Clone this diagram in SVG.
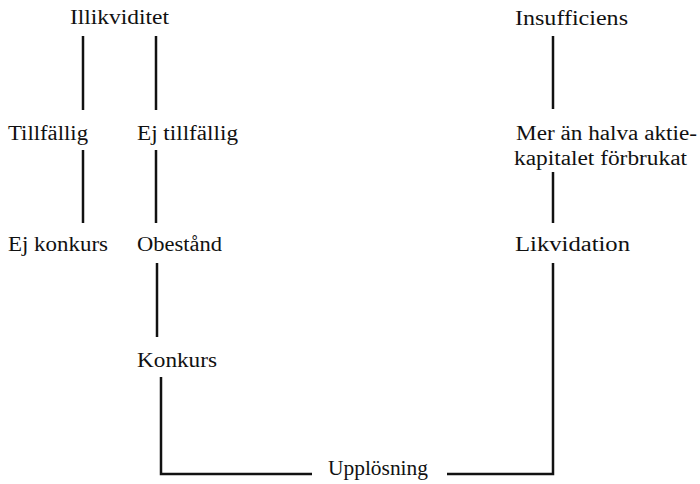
<svg xmlns="http://www.w3.org/2000/svg" width="700" height="484" viewBox="0 0 700 484">
<style>
text{font-family:"Liberation Serif","Times New Roman",serif;font-size:20px;fill:#111}
.c{stroke:#111;stroke-width:2.5;fill:none}
</style>
<rect width="700" height="484" fill="#fff"/>
<g id="connectors">
<path class="c" d="M83 36V110"/>
<path class="c" d="M83 150V223"/>
<path class="c" d="M156 36V110"/>
<path class="c" d="M156 150V223"/>
<path class="c" d="M157 263V337"/>
<path class="c" d="M161 377V474H312"/>
<path class="c" d="M553 36V109"/>
<path class="c" d="M553 172V223"/>
<path class="c" d="M553 263V474H447"/>
</g>
<g id="illikviditet"><text x="70" y="24" textLength="99" lengthAdjust="spacingAndGlyphs">Illikviditet</text></g>
<g id="insufficiens"><text x="515" y="25" textLength="113" lengthAdjust="spacingAndGlyphs">Insufficiens</text></g>
<g id="tillfallig"><text x="8" y="140" textLength="80" lengthAdjust="spacingAndGlyphs">Tillfällig</text></g>
<g id="ej-tillfallig"><text x="137" y="140" textLength="101" lengthAdjust="spacingAndGlyphs">Ej tillfällig</text></g>
<g id="mer-an-halva"><text x="516" y="140" textLength="181" lengthAdjust="spacingAndGlyphs">Mer än halva aktie-</text><text x="514" y="165" textLength="173" lengthAdjust="spacingAndGlyphs">kapitalet förbrukat</text></g>
<g id="ej-konkurs"><text x="8" y="251" textLength="100" lengthAdjust="spacingAndGlyphs">Ej konkurs</text></g>
<g id="obestand"><text x="137" y="251" textLength="85" lengthAdjust="spacingAndGlyphs">Obestånd</text></g>
<g id="likvidation"><text x="515" y="251" textLength="115" lengthAdjust="spacingAndGlyphs">Likvidation</text></g>
<g id="konkurs"><text x="137" y="367" textLength="80" lengthAdjust="spacingAndGlyphs">Konkurs</text></g>
<g id="upplosning"><text x="328" y="475" textLength="100" lengthAdjust="spacingAndGlyphs">Upplösning</text></g>
</svg>
